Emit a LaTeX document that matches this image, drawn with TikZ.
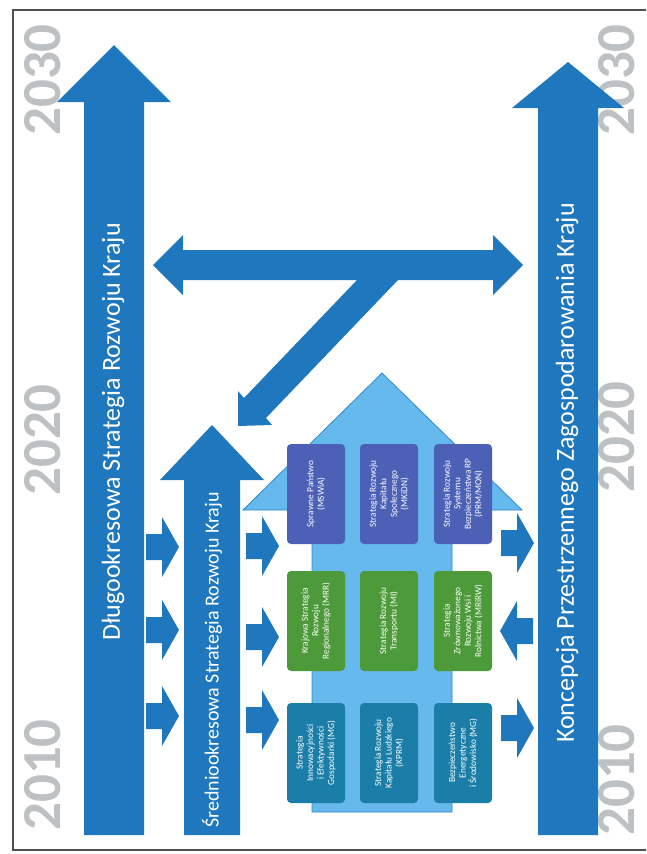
\documentclass[tikz,border=0pt]{standalone}
\usepackage{fontspec}
\setmainfont{Carlito}
\definecolor{mainblue}{HTML}{1F77BD}
\definecolor{lightblue}{HTML}{66B9EC}
\definecolor{lightedge}{HTML}{2F88CF}
\definecolor{boxpurple}{HTML}{4C60B6}
\definecolor{boxgreen}{HTML}{4C9A3A}
\definecolor{boxteal}{HTML}{1B7EA8}
\definecolor{yeargray}{HTML}{BEC1C3}
\definecolor{framegray}{HTML}{505050}
\tikzset{
  yearlabel/.style={rotate=90, text=yeargray, font=\fontsize{55}{55}\bfseries\selectfont, inner sep=0pt},
  arrowtext/.style={rotate=90, text=white, inner sep=0pt},
  stratbox/.style={rotate=90, rounded corners=4pt, minimum width=100pt, minimum height=58pt,
    text=white, align=center, font=\fontsize{9.3}{10.5}\selectfont, inner sep=1pt},
  pics/rarrow/.style={code={\fill[mainblue] (-16,-13) -- (0,-13) -- (0,-30) -- (17,0) -- (0,30) -- (0,13) -- (-16,13) -- cycle;}},
  pics/larrow/.style={code={\fill[mainblue] (16,-13) -- (0,-13) -- (0,-30) -- (-17,0) -- (0,30) -- (0,13) -- (16,13) -- cycle;}}
}
\begin{document}
\begin{tikzpicture}[x=1pt,y=-1pt]
\useasboundingbox (0,0) rectangle (646,854);
% frame
\draw[framegray, line width=1.5pt] (646,10) -- (13,10) -- (13,850) -- (646,850);
% year labels
\node[yearlabel] (y30l) at (43,80) {2030};
\node[yearlabel] (y20l) at (43,440) {2020};
\node[yearlabel] (y10l) at (43,775) {2010};
\node[yearlabel] (y30r) at (617,80) {2030};
\node[yearlabel] (y20r) at (617,437) {2020};
\node[yearlabel] (y10r) at (617,780) {2010};
% big light-blue arrow
\filldraw[fill=lightblue, draw=lightedge, line width=0.8pt]
  (312,812) -- (312,510) -- (243,510) -- (382,373) -- (522,510) -- (452,510) -- (452,812) -- cycle;
% long-term arrow
\fill[mainblue] (84,835) -- (84,102) -- (57,102) -- (114,45) -- (171,102) -- (144,102) -- (144,835) -- cycle;
\node[arrowtext, font=\fontsize{26}{26}\selectfont] (dlugo) at (113,432) {Długookresowa Strategia Rozwoju Kraju};
% spatial concept arrow
\fill[mainblue] (538,835) -- (538,108) -- (512,108) -- (568,62) -- (624,108) -- (598,108) -- (598,835) -- cycle;
\node[arrowtext, font=\fontsize{26}{26}\selectfont] (koncepcja) at (567,473) {Koncepcja Przestrzennego Zagospodarowania Kraju};
% medium-term arrow
\fill[mainblue] (184,835) -- (184,480) -- (160,480) -- (212,425) -- (264,480) -- (240,480) -- (240,835) -- cycle;
\node[arrowtext, font=\fontsize{20}{20}\selectfont] (srednio) at (212,660) {Średniookresowa Strategia Rozwoju Kraju};
% T arrow
\fill[mainblue] (153,265) -- (183,235) -- (183,250) -- (493,250) -- (493,235) -- (523,265) -- (493,295)
  -- (493,280) -- (398,280) -- (266,418) -- (272,425) -- (238,426) -- (238,391) -- (244,398)
  -- (357,280) -- (183,280) -- (183,295) -- cycle;
% small arrows
\pic at (162,547) {rarrow};
\pic at (162,630) {rarrow};
\pic at (162,716) {rarrow};
\pic at (262,546) {rarrow};
\pic at (262,637) {rarrow};
\pic at (262,720) {rarrow};
\pic at (517,543) {rarrow};
\pic at (517,631) {larrow};
\pic at (517,728) {rarrow};
% strategy boxes
\node[stratbox, fill=boxpurple] (b7) at (316,494) {Sprawne Państwo\\(MSWiA)};
\node[stratbox, fill=boxpurple] (b8) at (389,494) {Strategia Rozwoju\\Kapitału\\Społecznego\\(MKiDN)};
\node[stratbox, fill=boxpurple] (b9) at (463,494) {Strategia Rozwoju\\Systemu\\Bezpieczeństwa RP\\(PRM/MON)};
\node[stratbox, fill=boxgreen] (b4) at (316,621) {Krajowa Strategia\\Rozwoju\\Regionalnego (MRR)};
\node[stratbox, fill=boxgreen] (b5) at (389,621) {Strategia Rozwoju\\Transportu (MI)};
\node[stratbox, fill=boxgreen] (b6) at (463,621) {Strategia\\Zrównoważonego\\Rozwoju Wsi i\\Rolnictwa (MRiRW)};
\node[stratbox, fill=boxteal] (b1) at (316,753) {Strategia\\Innowacyjności\\i Efektywności\\Gospodarki (MG)};
\node[stratbox, fill=boxteal] (b2) at (389,753) {Strategia Rozwoju\\Kapitału Ludzkiego\\(KPRM)};
\node[stratbox, fill=boxteal] (b3) at (463,753) {Bezpieczeństwo\\Energetyczne\\i Środowisko (MG)};
\end{tikzpicture}
\end{document}
